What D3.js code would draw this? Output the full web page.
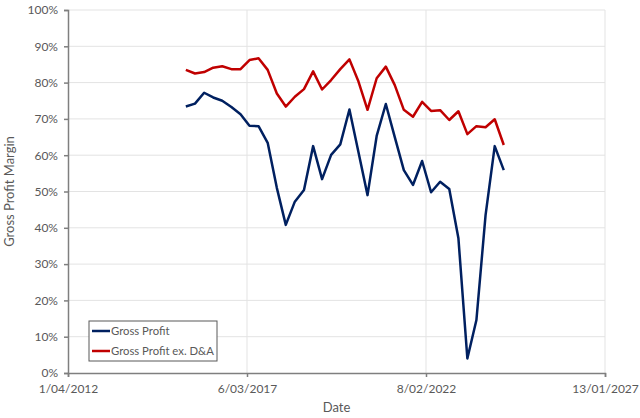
<!DOCTYPE html>
<html>
<head>
<meta charset="utf-8">
<script src="https://cdn.jsdelivr.net/npm/d3@7"></script>
<style>
  body { margin: 0; background: #fff; }
  text { font-family: Lato, "Open Sans", sans-serif; fill: #595959; }
</style>
</head>
<body>
<script>
// quarter end dates
var dates = ["2015-06-30","2015-09-30","2015-12-31","2016-03-31","2016-06-30","2016-09-30","2016-12-31","2017-03-31",
             "2017-06-30","2017-09-30","2017-12-31","2018-03-31","2018-06-30","2018-09-30","2018-12-31","2019-03-31",
             "2019-06-30","2019-09-30","2019-12-31","2020-03-31","2020-06-30","2020-09-30","2020-12-31","2021-03-31",
             "2021-06-30","2021-09-30","2021-12-31","2022-03-31","2022-06-30","2022-09-30","2022-12-31","2023-03-31",
             "2023-06-30","2023-09-30","2023-12-31","2024-03-31"];
var grossProfit = [73.4,74.2,77.2,75.9,75.0,73.3,71.3,68.1,68.0,63.4,51.0,40.8,47.2,50.4,62.5,53.4,
                   60.1,63.0,72.6,60.8,49.0,65.3,74.1,65.0,55.9,51.8,58.4,49.8,52.7,50.7,37.1,4.0,
                   14.6,43.5,62.5,55.9];
var grossProfitExDA = [83.5,82.5,82.9,84.1,84.5,83.7,83.7,86.2,86.7,83.5,77.0,73.4,76.1,78.2,83.1,78.1,
                       80.7,83.7,86.4,80.3,72.5,81.2,84.4,79.3,72.5,70.6,74.7,72.2,72.4,69.7,72.1,65.8,
                       68.0,67.7,69.9,62.8];
var seriesNames = ["Gross Profit", "Gross Profit ex. D&A"];
var seriesColors = ["#002060", "#C00000"];
var xTicks = ["2012-04-01","2017-03-06","2022-02-08","2027-01-13"];
var xTickLabels = ["1/04/2012","6/03/2017","8/02/2022","13/01/2027"];
var yTicks = [0,10,20,30,40,50,60,70,80,90,100];

var width = 640, height = 418;
var margin = {left: 68, right: 35, top: 10, bottom: 45};

var svg = d3.select("body").append("svg")
    .attr("width", width)
    .attr("height", height);

var parse = d3.timeParse("%Y-%m-%d");

var x = d3.scaleTime()
    .domain([parse(xTicks[0]), parse(xTicks[3])])
    .range([margin.left, width - margin.right]);
var y = d3.scaleLinear()
    .domain([0, 100])
    .range([height - margin.bottom, margin.top]);

//gridlines
svg.selectAll(".hgrid")
    .data(yTicks.slice(1))
    .enter().append("line")
    .attr("x1", margin.left).attr("x2", width - margin.right)
    .attr("y1", function(d){ return y(d); }).attr("y2", function(d){ return y(d); })
    .attr("stroke", "#e3e3e3").attr("stroke-width", 1);
svg.selectAll(".vgrid")
    .data(xTicks.slice(1))
    .enter().append("line")
    .attr("x1", function(d){ return x(parse(d)); }).attr("x2", function(d){ return x(parse(d)); })
    .attr("y1", margin.top).attr("y2", y(0))
    .attr("stroke", "#e3e3e3").attr("stroke-width", 1);

//axes
var yAxis = svg.append("g")
    .attr("transform", "translate(" + margin.left + ",0)")
    .call(d3.axisLeft(y).tickValues(yTicks).tickFormat(function(d){ return d + "%"; }).tickSize(4).tickPadding(6));
var xAxis = svg.append("g")
    .attr("transform", "translate(0," + y(0) + ")")
    .call(d3.axisBottom(x).tickValues(xTicks.map(parse))
        .tickFormat(function(d, i){ return xTickLabels[i]; }).tickSize(4).tickPadding(7));
[yAxis, xAxis].forEach(function(a){
    a.select(".domain").attr("stroke", "#7f7f7f").attr("stroke-width", 1.5);
    a.selectAll(".tick line").attr("stroke", "#7f7f7f").attr("stroke-width", 1.5);
    a.selectAll(".tick text").style("font-size", "12px").style("fill", "#595959")
        .style("font-family", "Lato, 'Open Sans', sans-serif");
});

//axis titles
svg.append("text")
    .attr("transform", "translate(14," + ((y(0) + y(100)) / 2) + ") rotate(-90)")
    .attr("text-anchor", "middle")
    .style("font-size", "13px")
    .text("Gross Profit Margin");
svg.append("text")
    .attr("x", (x.range()[0] + x.range()[1]) / 2)
    .attr("y", 412)
    .attr("text-anchor", "middle")
    .style("font-size", "13px")
    .text("Date");

//lines
var series = [grossProfit, grossProfitExDA];
var line = d3.line()
    .x(function(d, i){ return x(parse(dates[i])); })
    .y(function(d){ return y(d); });
series.forEach(function(s, k){
    svg.append("path")
        .datum(s)
        .attr("fill", "none")
        .attr("stroke", seriesColors[k])
        .attr("stroke-width", 2.5)
        .attr("stroke-linejoin", "round")
        .attr("d", line);
});

//legend
var legend = svg.append("g").attr("transform", "translate(89,321)");
legend.append("rect")
    .attr("width", 128).attr("height", 40)
    .attr("fill", "#fff").attr("stroke", "#595959").attr("stroke-width", 1);
seriesNames.forEach(function(n, k){
    legend.append("line")
        .attr("x1", 3).attr("x2", 21)
        .attr("y1", 10 + k * 20).attr("y2", 10 + k * 20)
        .attr("stroke", seriesColors[k]).attr("stroke-width", 2.5);
    legend.append("text")
        .attr("x", 22).attr("y", 14 + k * 20)
        .style("font-size", "11.3px")
        .text(n);
});
</script>
</body>
</html>
